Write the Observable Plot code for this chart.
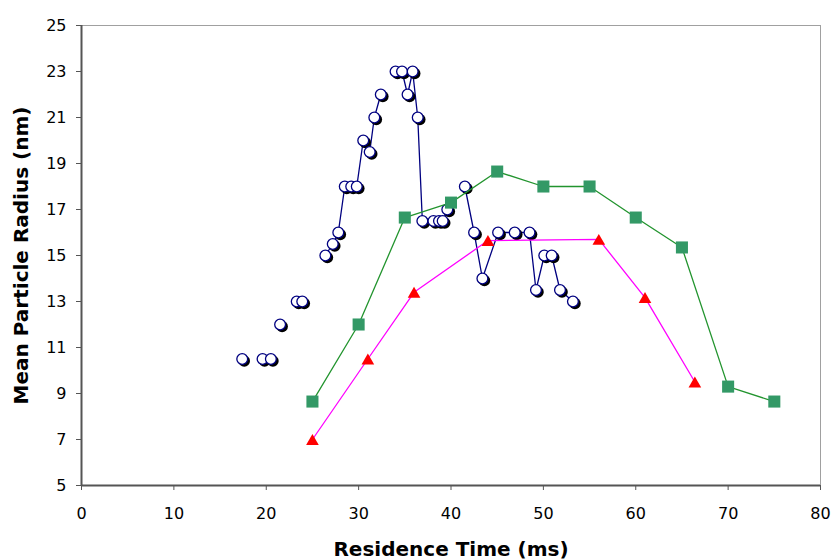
<!DOCTYPE html>
<html><head><meta charset="utf-8">
<script src="https://cdn.jsdelivr.net/npm/d3@7"></script>
<script src="https://cdn.jsdelivr.net/npm/@observablehq/plot@0.6"></script>
<style>body{margin:0;background:#fff}</style>
</head><body><div id="chart"></div>
<script>
const xTicks = [0, 10, 20, 30, 40, 50, 60, 70, 80];
const yTicks = [5, 7, 9, 11, 13, 15, 17, 19, 21, 23, 25];

// Series 1: open circles (navy), segments where a line joins points
const circleX = [17.4, 19.6, 20.5, 21.5, 23.3, 23.9, 26.4, 27.2, 27.8, 28.5, 29.2, 29.8, 30.5, 31.2, 31.7, 32.4,
                 34.0, 34.7, 35.3, 35.85, 36.4, 36.9, 38.1, 38.7, 39.1, 39.6,
                 41.5, 42.5, 43.4, 45.1, 46.9, 48.5, 49.2, 50.1, 50.9, 51.8, 53.2];
const circleY = [10.5, 10.5, 10.5, 12, 13, 13, 15, 15.5, 16, 18, 18, 18, 20, 19.5, 21, 22,
                 23, 23, 22, 23, 21, 16.5, 16.5, 16.5, 16.5, 17,
                 18, 16, 14, 16, 16, 16, 13.5, 15, 15, 13.5, 13];
const circleRun = [1, 2, 3, 4, 5, 6, 7, 7, 7, 7, 7, 7, 7, 7, 7, 7,
                   8, 8, 8, 8, 8, 8, 8, 8, 8, 8,
                   9, 9, 9, 9, 9, 9, 9, 9, 9, 9, 9];

// Series 2: green squares
const squareX = [25, 30, 35, 40, 45, 50, 55, 60, 65, 70, 75];
const squareY = [8.65, 12, 16.65, 17.3, 18.65, 18, 18, 16.65, 15.35, 9.3, 8.65];

// Series 3: red triangles
const triX = [25, 31, 36, 44, 56, 61, 66.4];
const triY = [7.0, 10.5, 13.4, 15.65, 15.7, 13.17, 9.5];

const circles = circleX.map((x, i) => ({x, y: circleY[i], run: circleRun[i]}));
const squares = squareX.map((x, i) => ({x, y: squareY[i]}));
const tris = triX.map((x, i) => ({x, y: triY[i]}));

const circleMarks = [];
for (const p of circles) {
  circleMarks.push(Plot.dot([p], {x: "x", y: "y", r: 5.8, fill: "#000", dx: 2, dy: 2}));
  circleMarks.push(Plot.dot([p], {x: "x", y: "y", r: 5.4, fill: "#fff", stroke: "#000080", strokeWidth: 1.3}));
}

const chart = Plot.plot({
  width: 833, height: 559,
  marginLeft: 81, marginRight: 13, marginTop: 25, marginBottom: 74,
  x: {domain: [0, 80]},
  y: {domain: [5, 25]},
  style: {fontFamily: "'DejaVu Sans', sans-serif", background: "#fff", color: "#000"},
  marks: [
    Plot.ruleY([25], {stroke: "#a0a0a0", strokeWidth: 1}),
    Plot.ruleX([80], {stroke: "#a0a0a0", strokeWidth: 1}),
    Plot.axisX({ticks: xTicks, tickSize: 5, tickPadding: 17, fontSize: 16, label: null, stroke: "#555", tickFormat: d => String(d)}),
    Plot.axisY({ticks: yTicks, tickSize: 5, tickPadding: 10, fontSize: 16, label: null, stroke: "#555", tickFormat: d => String(d)}),
    Plot.ruleX([0], {stroke: "#555", strokeWidth: 2}),
    Plot.ruleY([5], {stroke: "#555", strokeWidth: 2}),
    Plot.line(circles, {x: "x", y: "y", z: "run", stroke: "#000080", strokeWidth: 1.3}),
    ...circleMarks,
    Plot.line(squares, {x: "x", y: "y", stroke: "#22942e", strokeWidth: 1.3}),
    Plot.dot(squares, {x: "x", y: "y", symbol: "square", r: 6.8, fill: "#339966"}),
    Plot.line(tris, {x: "x", y: "y", stroke: "#ff00ff", strokeWidth: 1.3}),
    Plot.dot(tris, {x: "x", y: "y", symbol: "triangle", r: 4.7, fill: "#ff0000", dy: 1.8}),
    Plot.text(["Residence Time (ms)"], {frameAnchor: "bottom", dy: 63.6, lineAnchor: "middle", textAnchor: "middle", fontSize: 20, fontWeight: "bold"}),
    Plot.text(["Mean Particle Radius (nm)"], {frameAnchor: "left", dx: -59.7, rotate: -90, lineAnchor: "middle", textAnchor: "middle", fontSize: 20, fontWeight: "bold"})
  ]
});
document.getElementById("chart").appendChild(chart);
</script>
</body></html>
